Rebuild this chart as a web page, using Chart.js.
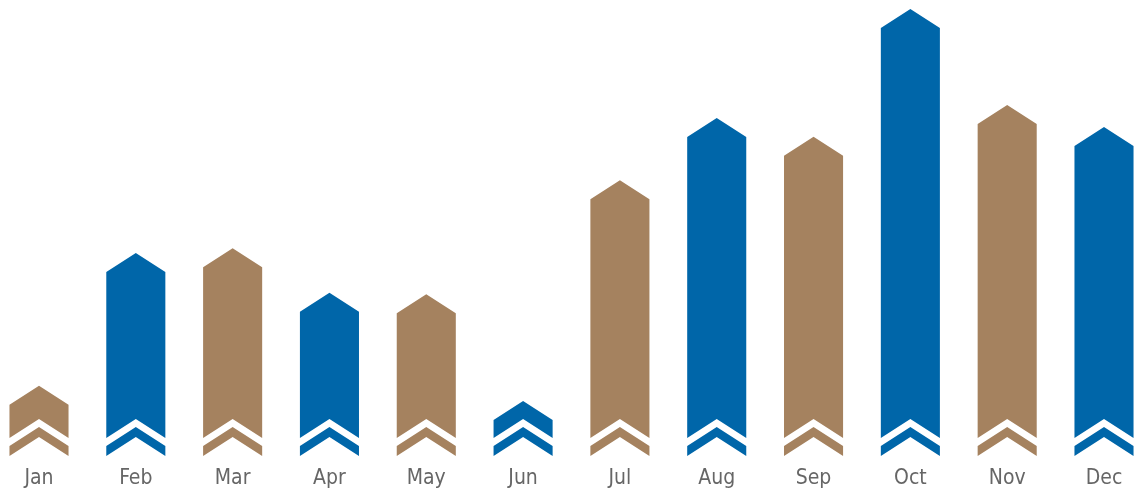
<!DOCTYPE html>
<html>
<head>
<meta charset="utf-8">
<script src="https://cdn.jsdelivr.net/npm/chart.js@4/dist/chart.umd.min.js"></script>
<style>
html, body { margin: 0; padding: 0; background: #fff; }
#wrap { width: 1136px; height: 494px; }
</style>
</head>
<body>
<div id="wrap"><canvas id="arrowChart"></canvas></div>
<script>
const months = ["Jan", "Feb", "Mar", "Apr", "May", "Jun", "Jul", "Aug", "Sep", "Oct", "Nov", "Dec"];
const values = [15.7, 45.4, 46.5, 36.5, 36.2, 12.3, 61.7, 75.6, 71.4, 100, 78.5, 73.6];

const BROWN = "#a5825f";
const BLUE = "#0066a9";
const barColors = months.map((m, i) => (i % 2 === 0 ? BROWN : BLUE));

// draws each bar as an arrow: pointed top, notched bottom and a separate chevron underneath
const arrowBars = {
    id: "arrowBars",
    afterDatasetsDraw(chart) {
        const ctx = chart.ctx;
        const meta = chart.getDatasetMeta(0);
        meta.data.forEach((bar, i) => {
            const { x, y, base, width } = bar.getProps(["x", "y", "base", "width"], true);
            const h = width / 2;
            const p = width * 0.322; // rise of the chevron slopes
            const bodyEnd = base - 18;
            const stripTop = base - 10;

            ctx.save();
            ctx.fillStyle = barColors[i];

            ctx.beginPath();
            ctx.moveTo(x - h, y + p);
            ctx.lineTo(x, y);
            ctx.lineTo(x + h, y + p);
            ctx.lineTo(x + h, bodyEnd);
            ctx.lineTo(x, bodyEnd - p);
            ctx.lineTo(x - h, bodyEnd);
            ctx.closePath();
            ctx.fill();

            ctx.beginPath();
            ctx.moveTo(x - h, stripTop);
            ctx.lineTo(x, stripTop - p);
            ctx.lineTo(x + h, stripTop);
            ctx.lineTo(x + h, base);
            ctx.lineTo(x, base - p);
            ctx.lineTo(x - h, base);
            ctx.closePath();
            ctx.fill();
            ctx.restore();
        });
    }
};

new Chart(document.getElementById("arrowChart"), {
    type: "bar",
    data: {
        labels: months,
        datasets: [{
            data: values,
            backgroundColor: "rgba(0,0,0,0)",
            borderWidth: 0,
            categoryPercentage: 0.61,
            barPercentage: 1
        }]
    },
    options: {
        responsive: true,
        maintainAspectRatio: false,
        animation: false,
        events: [],
        layout: { padding: { left: 39, right: 32, top: 9, bottom: 5 } },
        plugins: {
            legend: { display: false },
            tooltip: { enabled: false }
        },
        scales: {
            x: {
                offset: false,
                grid: { display: false, drawTicks: false },
                border: { display: false },
                afterFit(scale) { scale.height = 33; },
                ticks: {
                    color: "#666666",
                    padding: 10,
                    autoSkip: false,
                    maxRotation: 0,
                    font: { family: "'DejaVu Sans Condensed', 'DejaVu Sans', sans-serif", size: 21 }
                }
            },
            y: {
                display: false,
                min: 0,
                max: 100
            }
        }
    },
    plugins: [arrowBars]
});
</script>
</body>
</html>
